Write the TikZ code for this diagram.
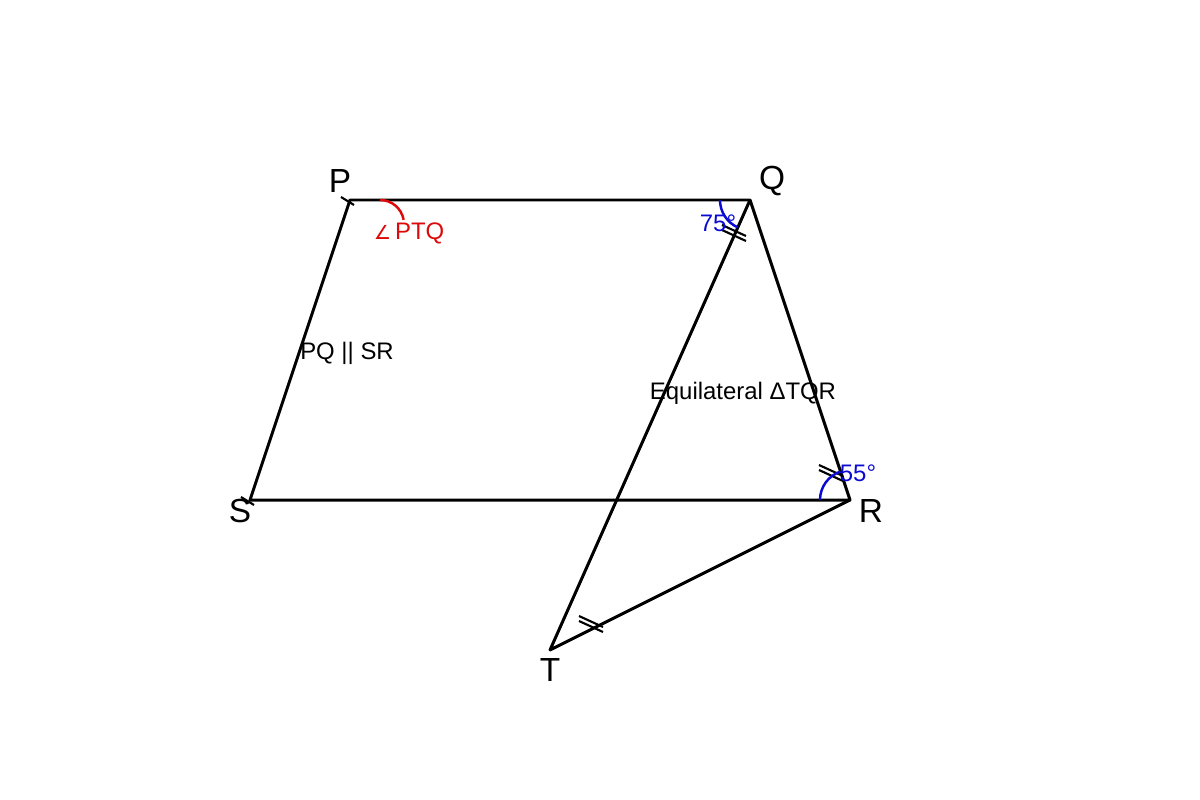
\documentclass[tikz,border=0pt]{standalone}
\usepackage{fontspec}
\setmainfont{Liberation Sans}
\newfontfamily\anglefont{DejaVu Sans}
\usetikzlibrary{arrows.meta,positioning}

\definecolor{markblue}{RGB}{10,10,210}
\definecolor{markred}{RGB}{220,10,10}

\begin{document}
\begin{tikzpicture}[x=0.01cm,y=-0.01cm,line width=0.85pt,line join=round]
            \useasboundingbox (0,0) rectangle (1200,800);
            \tikzset{vlabel/.style={font=\fontsize{9.5}{11}\selectfont,inner sep=0pt}}
            \tikzset{note/.style={font=\fontsize{6.8}{8}\selectfont,inner sep=0pt}}
            \tikzset{anglemark/.style={line width=0.7pt}}
            \tikzset{eqticks/.pic={\draw[line width=0.6pt] (-12,-8) -- (12,3); \draw[line width=0.6pt] (-12,-3) -- (12,8);}}
            \tikzset{endtick/.pic={\draw[line width=0.6pt] (-9,-3) -- (4,5);}}
            \coordinate (P) at (350,200);
            \coordinate (Q) at (750,200);
            \coordinate (R) at (850,500);
            \coordinate (S) at (250,500);
            \coordinate (T) at (550,650);
            % trapezium and triangle
            \draw (P) -- (Q) -- (R) -- (S) -- cycle;
            \draw (Q) -- (T) -- (R);
            \pic at (P) {endtick};
            \pic at (S) {endtick};
            % equal sides
            \pic at (734,233) {eqticks};
            \pic at (591,624) {eqticks};
            \pic at (831,473) {eqticks};
            % angles
            \draw[anglemark,markred] ([shift={(30,0)}]P) arc[start angle=-90, end angle=-10, radius=24];
            \draw[anglemark,markblue] ([shift={(-30,0)}]Q) arc[start angle=180, end angle=114, radius=30];
            \draw[anglemark,markblue] ([shift={(-30,0)}]R) arc[start angle=180, end angle=251.6, radius=30];
            % labels
            \node[vlabel] (lP) at (340,181) {P};
            \node[vlabel] (lQ) at (772,181) {Q};
            \node[vlabel] (lR) at (871,511) {R};
            \node[vlabel] (lS) at (240,511) {S};
            \node[vlabel] (lT) at (550,670) {T};
            \node[note,markred] (ptq) at (409,233) {{\anglefont\fontsize{5.5}{6}\selectfont ∠}\,PTQ};
            \node[note] (par) at (347,353) {PQ || SR};
            \node[note] (equi) at (743,393) {Equilateral ΔTQR};
            \node[note,markblue] (angq) at (718,223) {75°};
            \node[note,markblue] (angr) at (858,473) {55°};
\end{tikzpicture}
\end{document}
